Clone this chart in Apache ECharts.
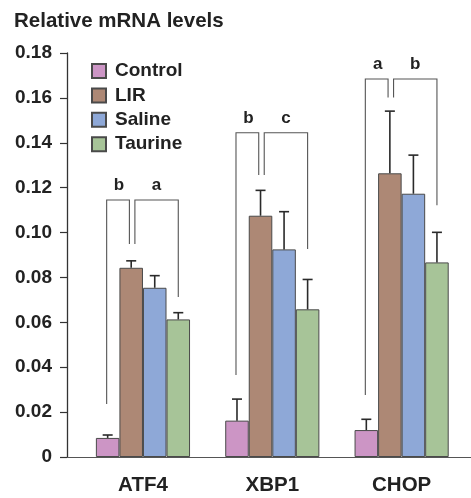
<!DOCTYPE html>
<html><head><meta charset="utf-8">
<script src="https://cdn.jsdelivr.net/npm/echarts@6/dist/echarts.min.js"></script>
<style>html,body{margin:0;padding:0;background:#fff}#c{width:471px;height:498px}</style>
</head><body><div id="c"></div>
<script>
const categories = ['ATF4', 'XBP1', 'CHOP'];
const groupNames = ['Control', 'LIR', 'Saline', 'Taurine'];
const controlMean = [0.0085, 0.0162, 0.0120];
const lirMean     = [0.0843, 0.1075, 0.1264];
const salineMean  = [0.0754, 0.0925, 0.1173];
const taurineMean = [0.0613, 0.0658, 0.0867];
const controlErr = [0.0013, 0.0096, 0.0048];
const lirErr     = [0.0031, 0.0113, 0.0277];
const salineErr  = [0.0054, 0.0168, 0.0172];
const taurineErr = [0.0030, 0.0133, 0.0134];
// brackets per category: top, left leg bottom, inner legs bottom, right leg bottom
const bracketTop   = [0.1145, 0.1445, 0.1684];
const bracketLeft  = [0.0236, 0.0365, 0.0276];
const bracketInner = [0.0949, 0.1256, 0.1602];
const bracketRight = [0.0713, 0.0927, 0.1122];
const bracketLabelL = ['b', 'b', 'a'];
const bracketLabelR = ['a', 'c', 'b'];
const yTicks = [0, 0.02, 0.04, 0.06, 0.08, 0.10, 0.12, 0.14, 0.16, 0.18];

const colors = ['#cc95c5', '#ad8875', '#8ea8d7', '#a7c498'];
const means = [controlMean, lirMean, salineMean, taurineMean];
const errs = [controlErr, lirErr, salineErr, taurineErr];
const BAR_FRAC = 0.182;
const FONT = 'Liberation Sans, Arial, sans-serif';

const chart = echarts.init(document.getElementById('c'));

const barSeries = groupNames.map((n, i) => ({
  name: n, type: 'bar', xAxisIndex: 1, yAxisIndex: 1,
  data: means[i], barWidth: (BAR_FRAC * 100) + '%', barGap: '0%',
  itemStyle: { color: colors[i], borderColor: '#4a4a4a', borderWidth: 1 },
  emphasis: { disabled: true }, z: 2
}));

const errData = [];
for (let s = 0; s < 4; s++) for (let c = 0; c < 3; c++) errData.push([c, s, means[s][c], means[s][c] + errs[s][c]]);

const bracketData = categories.map((_, c) => [c, bracketTop[c], bracketLeft[c], bracketInner[c], bracketRight[c], bracketLabelL[c], bracketLabelR[c]]);

const option = {
  animation: false,
  title: { text: 'Relative mRNA levels', left: 9, top: 6,
    textStyle: { fontFamily: FONT, fontSize: 20.5, fontWeight: 'bold', color: '#222' } },
  legend: {
    data: groupNames, orient: 'vertical', left: 91, top: 61.5, icon: 'rect',
    itemWidth: 14, itemHeight: 14, itemGap: 5.4, padding: 0, selectedMode: false,
    textStyle: { fontFamily: FONT, fontSize: 19, lineHeight: 19, fontWeight: 'bold', color: '#222', padding: [0, 0, 0, 4] }
  },
  grid: [
    { left: 67, right: 0, top: 53, bottom: 41 },
    { left: 78.3, right: 4.7, top: 53, bottom: 41 }
  ],
  xAxis: [
    { gridIndex: 0, type: 'value', min: 0, max: 1, axisLine: { show: true, onZero: false, lineStyle: { color: '#555', width: 1.2 } },
      axisTick: { show: false }, axisLabel: { show: false }, splitLine: { show: false } },
    { gridIndex: 1, type: 'category', data: categories, axisLine: { show: false }, axisTick: { show: false },
      axisLabel: { margin: 18, fontFamily: FONT, fontSize: 20.5, fontWeight: 'bold', color: '#222' } }
  ],
  yAxis: [
    { gridIndex: 0, type: 'value', min: 0, max: 0.18, interval: 0.02,
      axisLine: { show: true, lineStyle: { color: '#333', width: 1.3 } },
      axisTick: { show: true, length: 7, lineStyle: { color: '#333', width: 1.2 } },
      splitLine: { show: false },
      axisLabel: { margin: 15, fontFamily: FONT, fontSize: 19, fontWeight: 'bold', color: '#222',
        formatter: v => { const t = yTicks.find(x => Math.abs(x - v) < 1e-9); return t === 0 ? '0' : (t !== undefined ? t.toFixed(2) : ''); } } },
    { gridIndex: 1, type: 'value', min: 0, max: 0.18, interval: 0.02, show: false }
  ],
  series: barSeries.concat([
    {
      type: 'custom', xAxisIndex: 1, yAxisIndex: 1, data: errData, z: 3, silent: true,
      renderItem: (params, api) => {
        const c = api.value(0), s = api.value(1);
        const band = api.size([1, 0])[0];
        const bw = band * BAR_FRAC;
        const base = api.coord([c, api.value(2)]);
        const top = api.coord([c, api.value(3)]);
        const x = base[0] + (s - 1.5) * bw;
        const st = { stroke: '#2a2a2a', lineWidth: 1.6 };
        return { type: 'group', children: [
          { type: 'line', shape: { x1: x, y1: base[1], x2: x, y2: top[1] }, style: st },
          { type: 'line', shape: { x1: x - 5, y1: top[1], x2: x + 5, y2: top[1] }, style: st }
        ] };
      }
    },
    {
      type: 'custom', xAxisIndex: 1, yAxisIndex: 1, data: bracketData, z: 3, silent: true,
      renderItem: (params, api) => {
        const c = api.value(0);
        const band = api.size([1, 0])[0];
        const bw = band * BAR_FRAC;
        const ctr = api.coord([c, 0])[0];
        const yTop = api.coord([c, api.value(1)])[1];
        const yL = api.coord([c, api.value(2)])[1];
        const yI = api.coord([c, api.value(3)])[1];
        const yR = api.coord([c, api.value(4)])[1];
        const xL = ctr - 1.5 * bw - 1;
        const xI1 = ctr - 0.5 * bw - 1.8;
        const xI2 = ctr - 0.5 * bw + 3.7;
        const xR = ctr + 1.5 * bw;
        const st = { stroke: '#555', lineWidth: 1.1, fill: null };
        const tf = { fontFamily: FONT, fontSize: 17, fontWeight: 'bold', fill: '#222', align: 'center', verticalAlign: 'bottom' };
        return { type: 'group', children: [
          { type: 'polyline', shape: { points: [[xL, yL], [xL, yTop], [xI1, yTop], [xI1, yI]] }, style: st },
          { type: 'polyline', shape: { points: [[xI2, yI], [xI2, yTop], [xR, yTop], [xR, yR]] }, style: st },
          { type: 'text', style: Object.assign({ text: api.value(5), x: (xL + xI1) / 2 + 1, y: yTop - 6 }, tf) },
          { type: 'text', style: Object.assign({ text: api.value(6), x: (xI2 + xR) / 2, y: yTop - 6 }, tf) }
        ] };
      }
    }
  ])
};
chart.setOption(option);
</script></body></html>
